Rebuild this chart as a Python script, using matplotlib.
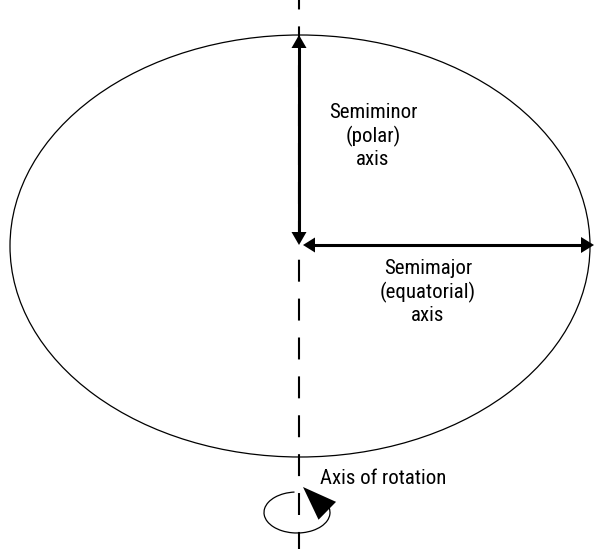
import numpy as np
import matplotlib
matplotlib.use("Agg")
import matplotlib.pyplot as plt
from matplotlib.patches import Ellipse, Arc, Polygon

plt.rcParams['lines.scale_dashes'] = False

# Diagram geometry (pixel units)
W, H = 595, 549
center = (300, 246)
semimajor = 290
semiminor = 211
axis_x = 299
rot_center = (297, 512.5)
rot_size = (66, 41)
rot_arc = (-21, 263)

labels_minor = "Semiminor\n(polar)\naxis"
labels_major = "Semimajor\n(equatorial)\naxis"
label_rot = "Axis of rotation"

family = ['Roboto Condensed', 'DejaVu Sans']

fig = plt.figure(figsize=(W / 100, H / 100), dpi=100)
ax = fig.add_axes([0, 0, 1, 1])
ax.set_xlim(0, W)
ax.set_ylim(H, 0)
ax.axis('off')


def head(tip, direction, length, width):
    d = np.array(direction, float)
    d /= np.linalg.norm(d)
    n = np.array([-d[1], d[0]])
    t = np.array(tip, float)
    base = t - d * length
    pts = [t, base + n * width / 2, base - n * width / 2]
    ax.add_patch(Polygon(pts, closed=True, color='black', lw=0, zorder=5))


# dashed rotation axis
ax.plot([axis_x, axis_x], [0, H], color='black', lw=1.5,
        linestyle=(9, (15.8, 12.2)), zorder=1)

# ellipse
ax.add_patch(Ellipse(center, 2 * semimajor, 2 * semiminor, fill=False,
                     ec='black', lw=0.9, zorder=2))

# semiminor arrow (vertical, double headed)
top = (axis_x, center[1] - semiminor)
bot = (axis_x, center[1] - 1)
ax.plot([axis_x, axis_x], [top[1] + 10, bot[1] - 10], color='black', lw=2.2, zorder=4)
head(top, (0, -1), 13, 15)
head(bot, (0, 1), 13, 15)

# semimajor arrow (horizontal, double headed)
left = (center[0] + 3, center[1] - 1)
right = (center[0] + semimajor + 4, center[1] - 1)
ax.plot([left[0] + 10, right[0] - 10], [left[1], right[1]], color='black', lw=2.2, zorder=4)
head(left, (-1, 0), 12, 15)
head(right, (1, 0), 13, 16)

# rotation symbol
ax.add_patch(Arc(rot_center, rot_size[0], rot_size[1], theta1=rot_arc[0],
                 theta2=rot_arc[1], ec='black', lw=0.9, zorder=3))
head((303, 487), (-24.5, -24), 34, 25)

fs = 15
ax.text(373, 136, labels_minor, ha='center', va='center', fontsize=fs,
        family=family, linespacing=1.2)
ax.text(428, 292, labels_major, ha='center', va='center', fontsize=fs,
        family=family, linespacing=1.2)
ax.text(320, 478, label_rot, ha='left', va='center', fontsize=fs,
        family=family)

fig.savefig('out.png', dpi=100)
